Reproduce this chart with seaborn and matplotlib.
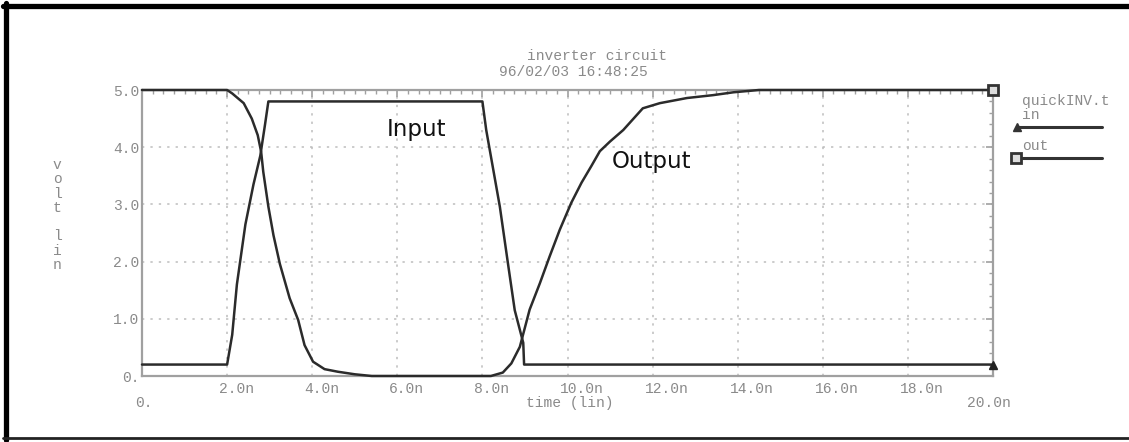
import matplotlib
matplotlib.use('Agg')
import matplotlib.pyplot as plt
import matplotlib.transforms as mtransforms
from matplotlib.lines import Line2D
from matplotlib.ticker import MultipleLocator
import pandas as pd
import seaborn as sns

# input pulse: time (ns) / volts
t_in = [0.0, 2.0, 2.12, 2.23, 2.43, 2.62, 2.78, 2.89, 2.97, 8.0, 8.09, 8.41, 8.6, 8.76, 8.96, 8.98, 20.0]
v_in = [0.2, 0.2, 0.72, 1.6, 2.65, 3.35, 3.85, 4.39, 4.8, 4.8, 4.3, 2.96, 1.97, 1.15, 0.58, 0.2, 0.2]

# inverter output
t_out = [0.0, 2.0, 2.12, 2.39, 2.58, 2.72, 2.8, 2.85, 2.97, 3.09, 3.24, 3.47, 3.67, 3.82, 4.02,
         4.29, 4.6, 5.0, 5.4, 8.2, 8.48, 8.68, 8.88, 9.11, 9.35, 9.58, 9.82, 10.09, 10.33, 10.56,
         10.76, 11.0, 11.31, 11.54, 11.77, 12.17, 12.81, 13.42, 13.9, 14.5, 20.0]
v_out = [5.0, 5.0, 4.94, 4.77, 4.5, 4.21, 3.92, 3.57, 2.96, 2.46, 1.96, 1.36, 0.98, 0.54, 0.25,
         0.12, 0.075, 0.03, 0.0, 0.0, 0.06, 0.22, 0.51, 1.16, 1.62, 2.09, 2.56, 3.03, 3.38, 3.67,
         3.93, 4.1, 4.3, 4.49, 4.68, 4.77, 4.86, 4.91, 4.96, 5.0, 5.0]

x_ticks = [0, 2, 4, 6, 8, 10, 12, 14, 16, 18, 20]
x_labels = ['', '2.0n', '4.0n', '6.0n', '8.0n', '10.0n', '12.0n', '14.0n', '16.0n', '18.0n', '']
y_ticks = [0, 1, 2, 3, 4, 5]
y_labels = ['0.', '1.0', '2.0', '3.0', '4.0', '5.0']

W, H = 1129, 442


def fx(x):
    return x / W


def fy(y):
    return 1 - y / H


sns.set_style('white')
plt.rcParams['font.family'] = ['Liberation Mono', 'DejaVu Sans Mono']

fig = plt.figure(figsize=(W / 100, H / 100), dpi=100)
ax = fig.add_axes([fx(142), fy(376), fx(993) - fx(142), fy(90) - fy(376)])

df_in = pd.DataFrame({'t': t_in, 'v': v_in})
df_out = pd.DataFrame({'t': t_out, 'v': v_out})
sns.lineplot(data=df_out, x='t', y='v', ax=ax, color='#2b2b2b', lw=1.8,
             estimator=None, sort=False, clip_on=False, zorder=3)
sns.lineplot(data=df_in, x='t', y='v', ax=ax, color='#2b2b2b', lw=1.8,
             estimator=None, sort=False, clip_on=False, zorder=3)
# end-of-trace markers
ax.plot(t_in[-1], v_in[-1], marker='^', ms=6, color='#222', clip_on=False, zorder=4)
ax.plot(t_out[-1], v_out[-1], marker='s', ms=7, mfc='#ddd', mec='#333', mew=2,
        clip_on=False, zorder=4)

ax.set_xlim(0, 20)
ax.set_ylim(0, 5)
ax.set_xlabel('')
ax.set_ylabel('')

gray = '#8a8a8a'
for s in ax.spines.values():
    s.set_color('#a0a0a0')
    s.set_linewidth(1.6)

ax.set_xticks(x_ticks, x_labels)
ax.set_yticks(y_ticks, y_labels)
ax.xaxis.set_minor_locator(MultipleLocator(0.25))
ax.yaxis.set_minor_locator(MultipleLocator(0.2))
ax.tick_params(which='both', direction='in', top=True, right=True, color='#a0a0a0',
               labelcolor=gray, labelsize=10.5)
ax.tick_params(which='major', length=5, width=1.2)
ax.tick_params(which='minor', length=3, width=1.0)
ax.tick_params(axis='x', pad=4)
ax.tick_params(axis='y', pad=2)
ax.grid(True, which='major', color='#bdbdbd', ls=(0, (1.5, 4)), lw=1.1)

shift = mtransforms.ScaledTranslation(-8 / 100, 0, fig.dpi_scale_trans)
for lbl in ax.get_xticklabels():
    lbl.set_horizontalalignment('left')
    lbl.set_transform(lbl.get_transform() + shift)

txt = dict(color=gray, fontsize=10.5)
fig.text(fx(135), fy(403), '0.', ha='left', va='center', **txt)
fig.text(fx(967), fy(403), '20.0n', ha='left', va='center', **txt)
fig.text(fx(570), fy(403), 'time (lin)', ha='center', va='center', **txt)
fig.text(fx(597), fy(56), 'inverter circuit', ha='center', va='center', **txt)
fig.text(fx(573), fy(72), '96/02/03 16:48:25', ha='center', va='center', **txt)
fig.text(fx(57), fy(215), 'v\no\nl\nt\n \nl\ni\nn', ha='center', va='center',
         linespacing=1.02, **txt)

# legend at the right
fig.text(fx(1022), fy(101), 'quickINV.t', ha='left', va='center', **txt)
fig.text(fx(1022), fy(115), 'in', ha='left', va='center', **txt)
fig.text(fx(1022), fy(146), 'out', ha='left', va='center', **txt)
fig.add_artist(Line2D([fx(1017), fx(1102)], [fy(127), fy(127)], transform=fig.transFigure,
                      color='#333', lw=2.2, marker='^', ms=6, markevery=[0]))
fig.add_artist(Line2D([fx(1016), fx(1102)], [fy(158), fy(158)], transform=fig.transFigure,
                      color='#333', lw=2.2, marker='s', ms=7, mfc='#ddd', mec='#333', mew=2,
                      markevery=[0]))

# curve labels
fig.text(fx(387), fy(136), 'Input', ha='left', va='baseline', fontsize=16.5,
         family='DejaVu Sans', color='#111')
fig.text(fx(612), fy(168), 'Output', ha='left', va='baseline', fontsize=16.5,
         family='DejaVu Sans', color='#111')

# page frame
fig.add_artist(Line2D([fx(5.5), fx(5.5)], [fy(3), fy(440)], transform=fig.transFigure,
                      color='black', lw=3.8))
fig.add_artist(Line2D([fx(3), fx(1129)], [fy(5.5), fy(5.5)], transform=fig.transFigure,
                      color='black', lw=3.8))
fig.add_artist(Line2D([fx(3), fx(1129)], [fy(438), fy(438)], transform=fig.transFigure,
                      color='#222', lw=2.0))

fig.savefig('out.png', dpi=100)
